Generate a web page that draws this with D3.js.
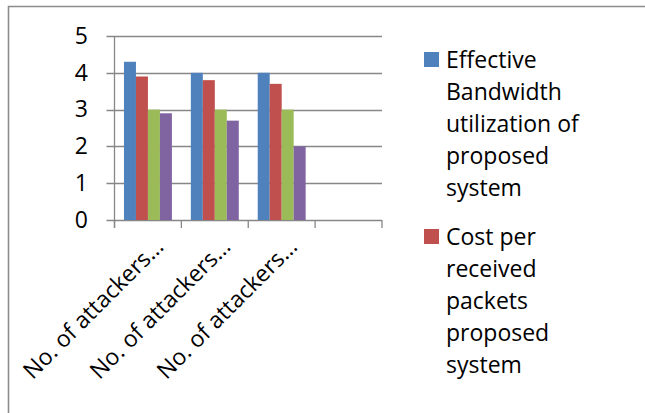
<!DOCTYPE html>
<html>
<head>
<meta charset="utf-8">
<script src="https://cdn.jsdelivr.net/npm/d3@7"></script>
<style>
  html, body { margin: 0; padding: 0; background: #fff; }
  svg { display: block; font-family: "Open Sans", Lato, sans-serif; }
</style>
</head>
<body>
<svg id="chart" width="645" height="413"></svg>
<script>
// Category labels (the fourth slot is an empty category)
const categories = ["No. of attackers…", "No. of attackers…", "No. of attackers…", ""];

// Series values per category
const bandwidthProposed = [4.3, 4.0, 4.0, null];
const costProposed      = [3.9, 3.8, 3.7, null];
const thirdSeries       = [3.0, 3.0, 3.0, null];
const fourthSeries      = [2.9, 2.7, 2.0, null];

const yTicks = [0, 1, 2, 3, 4, 5];

// Legend text, one entry per line as wrapped in the legend box
const legendLines = [
  ["Effective", "Bandwidth", "utilization of", "proposed", "system"],
  ["Cost per", "received", "packets", "proposed", "system"]
];

const colors = ["#4F81BD", "#C0504D", "#9BBB59", "#8064A2"];
const seriesValues = [bandwidthProposed, costProposed, thirdSeries, fourthSeries];
const fontSize = 23;

const svg = d3.select("#chart");

// Chart area border
svg.append("path")
  .attr("d", "M8.5,413 V6.5 H645")
  .attr("fill", "none")
  .attr("stroke", "#8c8c8c")
  .attr("stroke-width", 1.6);

const plotLeft = 114.5, plotRight = 382, plotTop = 36, plotBottom = 220;

const x = d3.scaleBand()
  .domain(d3.range(categories.length))
  .range([plotLeft, plotRight])
  .paddingInner(0).paddingOuter(0);

const xSeries = d3.scaleBand()
  .domain(d3.range(seriesValues.length))
  .range([0, x.bandwidth()])
  .paddingInner(0)
  .paddingOuter(0.79);

const y = d3.scaleLinear().domain([0, 5]).range([plotBottom, plotTop]);

// Horizontal gridlines (with outward tick stubs on the left)
svg.append("g").selectAll("line")
  .data(yTicks)
  .join("line")
  .attr("x1", plotLeft - 8)
  .attr("x2", plotRight)
  .attr("y1", d => Math.round(y(d)) + 0.5)
  .attr("y2", d => Math.round(y(d)) + 0.5)
  .attr("stroke", "#878787")
  .attr("stroke-width", 1.3);

// Bars
const groups = svg.append("g").selectAll("g")
  .data(seriesValues)
  .join("g")
  .attr("fill", (d, i) => colors[i]);

groups.selectAll("rect")
  .data((vals, si) => vals.map((v, ci) => ({ v, ci, si })).filter(d => d.v != null))
  .join("rect")
  .attr("x", d => x(d.ci) + xSeries(d.si))
  .attr("width", xSeries.bandwidth())
  .attr("y", d => y(d.v))
  .attr("height", d => y(0) - y(d.v));

// Y axis
const yAxis = d3.axisLeft(y)
  .tickValues(yTicks)
  .tickFormat(d3.format("d"))
  .tickSize(0)
  .tickPadding(26.5);

const yG = svg.append("g")
  .attr("transform", `translate(${plotLeft},0)`)
  .call(yAxis);
yG.select(".domain").remove();
yG.selectAll("text")
  .attr("font-family", "'Open Sans', sans-serif")
  .attr("font-size", fontSize)
  .attr("fill", "#000");

// Vertical axis line
svg.append("line")
  .attr("x1", plotLeft).attr("x2", plotLeft)
  .attr("y1", plotTop).attr("y2", plotBottom + 8)
  .attr("stroke", "#878787").attr("stroke-width", 1.3);

// Category boundary ticks below the x axis
const boundaries = d3.range(categories.length + 1).map(i =>
  i < categories.length ? x(i) : x(categories.length - 1) + x.bandwidth());
svg.append("g").selectAll("line")
  .data(boundaries)
  .join("line")
  .attr("x1", d => d).attr("x2", d => d)
  .attr("y1", plotBottom).attr("y2", plotBottom + 8)
  .attr("stroke", "#878787").attr("stroke-width", 1.3);

// Rotated category labels
svg.append("g").selectAll("text")
  .data(categories.map((c, i) => ({ c, i })).filter(d => d.c))
  .join("text")
  .attr("transform", d => `translate(${x(d.i) + x.bandwidth() / 2 + 17},248) rotate(-45)`)
  .attr("text-anchor", "end")
  .attr("font-size", fontSize)
  .attr("fill", "#000")
  .text(d => d.c);

// Legend
const legend = svg.append("g");
const legendTop = [60, 237];
legendLines.forEach((lines, i) => {
  const g = legend.append("g");
  g.append("rect")
    .attr("x", 424).attr("y", legendTop[i] - 8)
    .attr("width", 15).attr("height", 15)
    .attr("fill", colors[i]);
  g.selectAll("text")
    .data(lines)
    .join("text")
    .attr("x", 446)
    .attr("y", (d, k) => legendTop[i] + k * 32)
    .attr("dy", "0.35em")
    .attr("font-size", fontSize)
    .attr("fill", "#000")
    .text(d => d);
});
</script>
</body>
</html>
